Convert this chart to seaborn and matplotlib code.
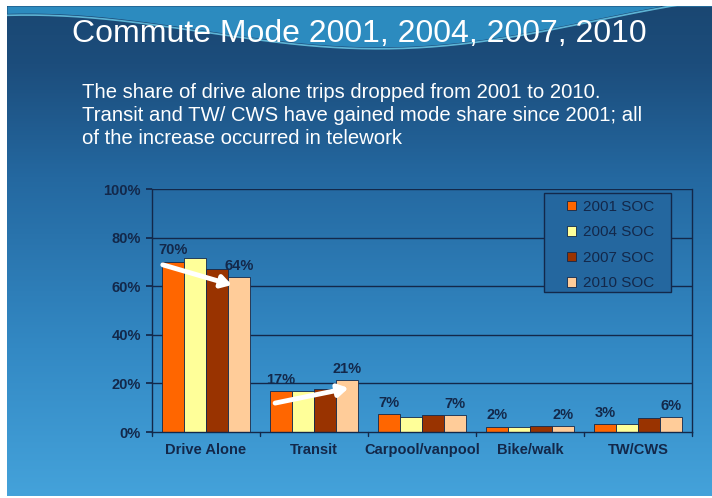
import numpy as np
import pandas as pd
import matplotlib
matplotlib.use("Agg")
import matplotlib.pyplot as plt
from matplotlib.colors import LinearSegmentedColormap
from matplotlib.patches import Rectangle
import seaborn as sns

# chart data (mode share, %)
modes = ["Drive Alone", "Transit", "Carpool/vanpool", "Bike/walk", "TW/CWS"]
years = ["2001 SOC", "2004 SOC", "2007 SOC", "2010 SOC"]
share_2001 = [70.1, 17.0, 7.4, 2.2, 3.4]
share_2004 = [71.5, 16.7, 6.0, 2.1, 3.4]
share_2007 = [67.0, 17.9, 7.1, 2.5, 5.9]
share_2010 = [63.8, 21.4, 6.8, 2.3, 6.2]
yticks = [0, 20, 40, 60, 80, 100]

colors = ["#ff6600", "#ffff99", "#993300", "#ffcc99"]
navy = "#13284a"

df = pd.DataFrame({
    "mode": modes * 4,
    "year": [y for y in years for _ in modes],
    "share": share_2001 + share_2004 + share_2007 + share_2010,
})

sns.set_theme(style="white")
plt.rcParams["font.family"] = ["Liberation Sans", "DejaVu Sans"]

fig = plt.figure(figsize=(7.12, 4.98), dpi=100)
fig.patch.set_facecolor("white")

# slide background
bg = fig.add_axes([7 / 712, 2 / 498, 705 / 712, 490 / 498])
bg.set_axis_off()
grad = np.linspace(0, 1, 256).reshape(-1, 1)
cmap = LinearSegmentedColormap.from_list(
    "slide", [(0, "#1a4772"), (0.12, "#1c4d7c"), (0.35, "#2468a0"),
              (0.7, "#3389c4"), (1, "#44a2da")])
bg.imshow(grad, aspect="auto", cmap=cmap, extent=[0, 1, 0, 1], origin="upper")
xs = np.linspace(0, 1, 200)
top = np.ones_like(xs)
wave = 0.985 - 0.09 * np.sin(np.pi * xs * 0.9) ** 2 + 0.04 * xs
bg.fill_between(xs, wave, top, color="#2f93c8", alpha=0.9, lw=0)
bg.plot(xs, wave - 0.004, color="#6fd0ee", lw=1.2, alpha=0.8)
bg.set_xlim(0, 1)
bg.set_ylim(0, 1)

fig.text(72 / 712, 1 - 34 / 498, "Commute Mode 2001, 2004, 2007, 2010",
         color="white", fontsize=23, va="center", ha="left")
subtitle = ("The share of drive alone trips dropped from 2001 to 2010.\n"
            "Transit and TW/ CWS have gained mode share since 2001; all\n"
            "of the increase occurred in telework")
fig.text(82 / 712, 1 - 83 / 498, subtitle, color="white", fontsize=14.6,
         va="top", ha="left", linespacing=1.27)

ax = fig.add_axes([152 / 712, 1 - 432 / 498, 540 / 712, 243 / 498])
ax.patch.set_alpha(0)
for t in yticks[1:]:
    ax.axhline(t, color=navy, lw=1.0, zorder=0.5)
sns.barplot(data=df, x="mode", y="share", hue="year", palette=colors,
            saturation=1, edgecolor=navy, linewidth=0.6, width=0.82, ax=ax,
            legend=True, zorder=2)

ax.set_ylim(0, 100)
ax.set_yticks(yticks)
ax.set_yticklabels([f"{t}%" for t in yticks], color=navy, fontsize=10.5,
                   fontweight="bold")
ax.set_xticks(range(len(modes)))
ax.set_xticklabels(modes, color=navy, fontsize=10.5, fontweight="bold")
ax.set_xlabel("")
ax.set_ylabel("")
ax.set_xlim(-0.5, len(modes) - 0.5)
for s in ["left", "bottom", "right"]:
    ax.spines[s].set_color(navy)
    ax.spines[s].set_linewidth(1.0)
ax.spines["top"].set_visible(False)
ax.tick_params(axis="y", length=4, color=navy, direction="out", pad=4, left=True)
ax.tick_params(axis="x", length=0, pad=8)
for i in range(len(modes) + 1):
    ax.plot([i - 0.5, i - 0.5], [0, -1.8], color=navy, lw=1, clip_on=False)

# labels on first and last series
for cont, vals in [(ax.containers[0], share_2001), (ax.containers[3], share_2010)]:
    ax.bar_label(cont, labels=[f"{round(v)}%" for v in vals], padding=3,
                 color=navy, fontsize=10.5, fontweight="bold")

# trend arrows
arrow = dict(arrowstyle="-|>,head_width=0.3,head_length=0.5", color="white",
             lw=3.5, shrinkA=0, shrinkB=0)
ax.annotate("", xy=(0.24, 60.5), xytext=(-0.40, 68.8), arrowprops=arrow,
            zorder=5)
ax.annotate("", xy=(1.32, 18.1), xytext=(0.64, 11.9), arrowprops=arrow,
            zorder=5)

# legend box drawn separately so its padding can differ from the entries
box = Rectangle((392 / 540, 140 / 243), 127 / 540, 99 / 243,
                transform=ax.transAxes, facecolor="#24679f", edgecolor=navy,
                lw=1.0, zorder=3)
ax.add_patch(box)
leg = ax.legend(loc="upper left", bbox_to_anchor=(415 / 540, 232 / 243),
                frameon=False, fontsize=11, handlelength=0.6,
                handleheight=0.6, labelspacing=0.75, borderpad=0,
                handletextpad=0.45, borderaxespad=0)
leg.set_zorder(4)
for txt in leg.get_texts():
    txt.set_color(navy)

fig.savefig("out.png", dpi=100, facecolor=fig.get_facecolor())
